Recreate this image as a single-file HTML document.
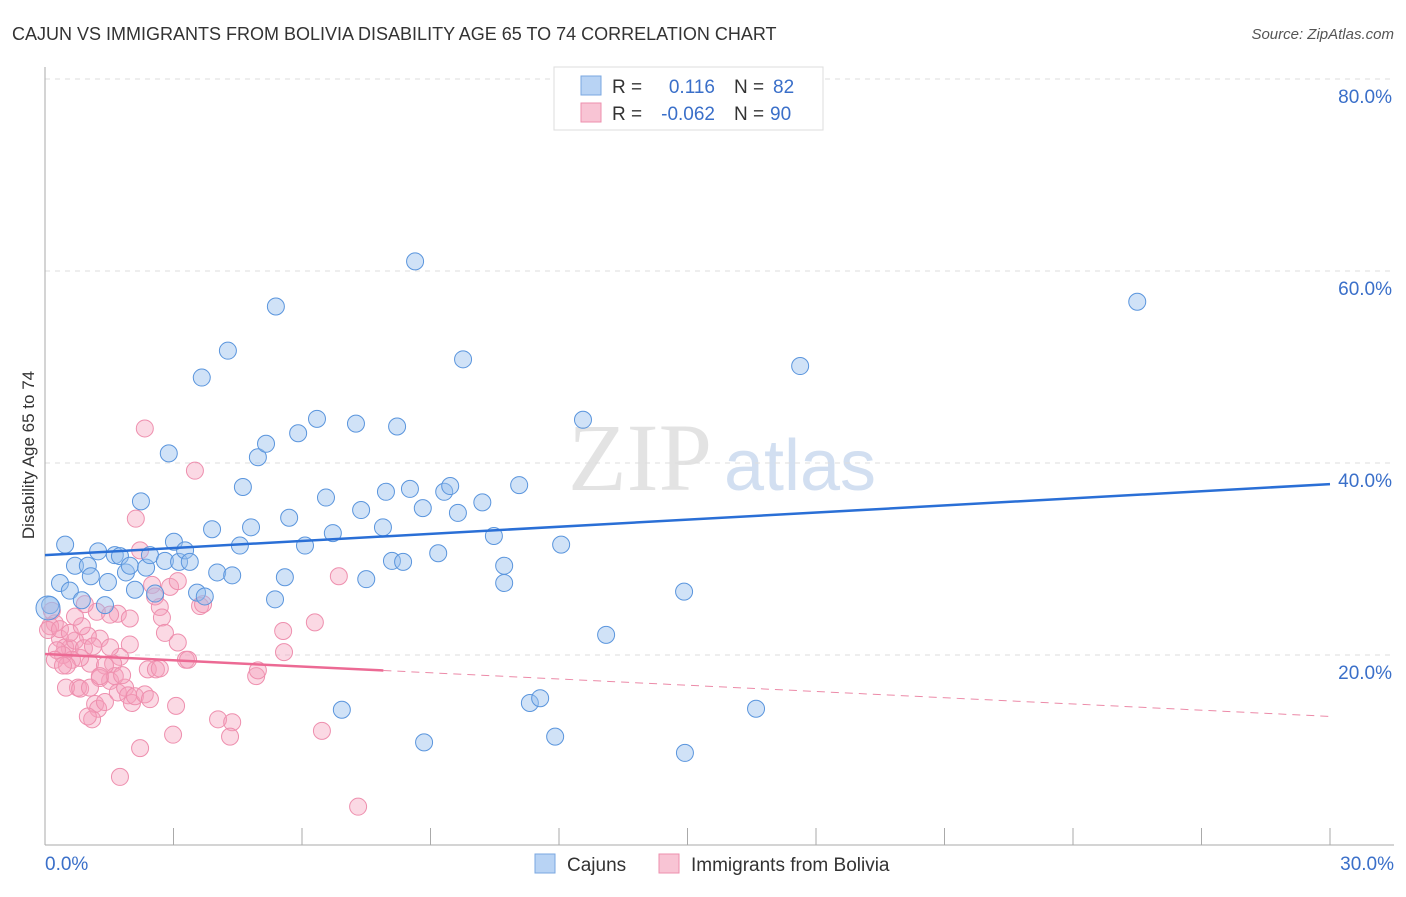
<!DOCTYPE html>
<html><head><meta charset="utf-8"><style>
body{margin:0;background:#fff;font-family:"Liberation Sans",sans-serif}
</style></head><body>
<svg id="c" width="1406" height="892" xmlns="http://www.w3.org/2000/svg">
<text x="12" y="40" font-size="18" fill="#333">CAJUN VS IMMIGRANTS FROM BOLIVIA DISABILITY AGE 65 TO 74 CORRELATION CHART</text>
<text x="1394" y="39" font-size="15" fill="#555" font-style="italic" text-anchor="end">Source: ZipAtlas.com</text>
<text transform="translate(34,455) rotate(-90)" font-size="17" fill="#333" text-anchor="middle">Disability Age 65 to 74</text>
<text x="640" y="490" font-size="96" fill="#ddd" font-family="Liberation Serif" text-anchor="middle" opacity="0.8">ZIP</text>
<text x="800" y="490" font-size="72" fill="#c8d8ee" text-anchor="middle" opacity="0.8">atlas</text>
<g id="axes"></g><g id="marks"></g>
<g>
<rect x="554" y="67" width="269" height="63" fill="#fff" stroke="#ddd"/>
<rect x="581" y="76" width="20" height="19" fill="#b8d3f4" stroke="#7aa7e0"/>
<rect x="581" y="103" width="20" height="19" fill="#f8c4d4" stroke="#ee8fae"/>
<text x="612" y="93" font-size="19" fill="#333">R = </text><text x="715" y="93" font-size="19" fill="#3a6fc9" text-anchor="end">0.116</text>
<text x="734" y="93" font-size="19" fill="#333">N = </text><text x="773" y="93" font-size="19" fill="#3a6fc9">82</text>
<text x="612" y="120" font-size="19" fill="#333">R = </text><text x="715" y="120" font-size="19" fill="#3a6fc9" text-anchor="end">-0.062</text>
<text x="734" y="120" font-size="19" fill="#333">N = </text><text x="770" y="120" font-size="19" fill="#3a6fc9">90</text>
</g>
<g>
<rect x="535" y="854" width="20" height="19" fill="#b8d3f4" stroke="#7aa7e0"/><text x="567" y="871" font-size="19" fill="#333">Cajuns</text>
<rect x="659" y="854" width="20" height="19" fill="#f8c4d4" stroke="#ee8fae"/><text x="691" y="871" font-size="19" fill="#333">Immigrants from Bolivia</text>
</g>
</svg>
<script>
const yTicks=[20,40,60,80];
const xTickLabels=["0.0%","30.0%"];
const blueX=[0.47,0.35,0.58,0.70,0.86,1.00,1.07,1.24,1.40,1.47,1.63,1.75,1.89,1.98,2.10,2.24,2.36,2.45,2.57,2.89,3.01,2.80,3.13,3.27,3.38,3.55,3.66,3.73,3.90,4.02,4.27,4.37,4.55,4.81,4.97,5.16,4.62,5.37,5.39,5.60,5.70,5.91,6.07,6.35,6.56,6.72,6.93,7.26,7.38,7.50,7.89,7.96,8.10,8.22,8.36,8.52,8.64,8.82,8.85,9.18,9.32,9.46,9.64,9.76,10.21,10.48,10.72,10.72,11.07,11.32,11.56,11.91,12.05,12.56,13.10,14.92,14.94,16.60,17.63,25.50,0.12,0.07];
const blueY=[31.5,27.5,26.7,29.3,25.7,29.3,28.2,30.8,25.2,27.6,30.4,30.3,28.6,29.3,26.8,36.0,29.1,30.4,26.4,41.0,31.8,29.8,29.7,30.9,29.7,26.5,48.9,26.1,33.1,28.6,51.7,28.3,31.4,33.3,40.6,42.0,37.5,25.8,56.3,28.1,34.3,43.1,31.4,44.6,36.4,32.7,14.3,44.1,35.1,27.9,33.3,37.0,29.8,43.8,29.7,37.3,61.0,35.3,10.9,30.6,37.0,37.6,34.8,50.8,35.9,32.4,29.3,27.5,37.7,15.0,15.5,11.5,31.5,44.5,22.1,26.6,9.8,14.4,50.1,56.8,25.2,24.9];
const pinkX=[2.33,2.12,3.50,2.22,2.50,2.92,3.10,2.68,2.73,2.80,3.62,3.29,3.10,2.40,2.59,1.98,1.75,1.59,1.52,1.28,1.05,0.82,0.58,0.35,0.23,0.12,0.07,0.16,0.35,0.47,0.63,0.77,0.49,0.82,1.17,1.24,1.10,1.00,1.40,1.70,1.87,1.94,2.03,2.10,1.63,1.80,2.22,1.75,2.99,3.06,3.34,1.28,1.52,1.70,1.21,1.98,0.93,1.00,0.70,0.42,0.28,0.58,0.91,0.23,0.51,2.68,3.69,5.56,5.58,6.30,6.86,4.93,4.97,6.465,4.04,4.37,4.32,7.31,1.52,1.05,2.57,2.33,2.45,1.40,0.42,1.28,0.86,0.70,1.12];
const pinkY=[43.6,34.2,39.2,30.9,27.3,27.1,27.7,25.0,23.9,22.3,25.1,19.5,21.3,18.5,18.5,21.1,19.8,19.1,17.3,17.6,19.1,19.7,20.7,21.7,23.3,23.0,22.6,24.6,22.7,20.8,19.5,16.6,16.6,16.5,14.9,14.4,13.3,13.6,15.1,16.1,16.6,15.8,15.0,15.7,17.8,17.9,10.3,7.3,11.7,14.7,19.5,21.7,20.8,24.3,24.5,23.8,25.3,22.0,21.5,20.0,20.5,22.3,20.7,19.5,18.9,18.6,25.3,22.5,20.3,23.4,28.2,17.8,18.4,12.1,13.3,13.0,11.5,4.2,24.2,16.6,26.1,15.9,15.4,18.9,18.9,17.8,23.0,24.0,20.9];
const blueTrend=[30.4,37.8], pinkTrend=[20.1,13.6], pinkSolidEnd=7.9;
const X=v=>45+v/30*1285, Y=v=>847-v*9.6;
const NS="http://www.w3.org/2000/svg";
function mk(p,t,a){const e=document.createElementNS(NS,t);for(const k in a)e.setAttribute(k,a[k]);p.appendChild(e);return e;}
const ax=document.getElementById('axes'), mg=document.getElementById('marks');
yTicks.forEach(t=>{
 const l=mk(ax,'line',{x1:45,x2:1394,y1:Y(t),y2:Y(t),stroke:'#ddd','stroke-dasharray':'5,5'});
 
 
 const tx=mk(ax,'text',{x:1392,y:Y(t)+24,'font-size':19,fill:'#3a6fc9','text-anchor':'end'});tx.textContent=t.toFixed(1)+'%';
 
 
});
mk(ax,'line',{x1:45,x2:45,y1:67,y2:845,stroke:'#aaa'});
mk(ax,'line',{x1:45,x2:1394,y1:845,y2:845,stroke:'#aaa'});
for(let i=1;i<=10;i++){const x=45+i*128.5;mk(ax,'line',{x1:x,x2:x,y1:828,y2:845,stroke:'#aaa'});}
const t0=mk(ax,'text',{x:45,y:870,'font-size':19,fill:'#3a6fc9'});t0.textContent=xTickLabels[0];


const t1=mk(ax,'text',{x:1394,y:870,'font-size':19,fill:'#3a6fc9','text-anchor':'end'});t1.textContent=xTickLabels[1];


pinkX.forEach((x,i)=>{const c=mk(mg,'circle',{cx:X(x),cy:Y(pinkY[i]),r:8.5,fill:'rgba(244,160,188,0.4)',stroke:'#ee8fae','stroke-width':1});
 
 });
blueX.forEach((x,i)=>{const c=mk(mg,'circle',{cx:X(x),cy:Y(blueY[i]),r:(i===blueX.length-1?12:8.5),fill:'rgba(150,190,238,0.45)',stroke:'#5a95dd','stroke-width':1});
 
 });
const bl=mk(mg,'line',{x1:X(0),y1:Y(blueTrend[0]),x2:X(30),y2:Y(blueTrend[1]),stroke:'#2a6fd6','stroke-width':2.5});


const py=x=>pinkTrend[0]+(pinkTrend[1]-pinkTrend[0])*x/30;
const pl=mk(mg,'line',{x1:X(0),y1:Y(py(0)),x2:X(pinkSolidEnd),y2:Y(py(pinkSolidEnd)),stroke:'#ec6a94','stroke-width':2.5});


const pd=mk(mg,'line',{x1:X(pinkSolidEnd),y1:Y(py(pinkSolidEnd)),x2:X(30),y2:Y(py(30)),stroke:'#ec8aa8','stroke-width':1,'stroke-dasharray':'8,6'});


</script>
</body></html>
